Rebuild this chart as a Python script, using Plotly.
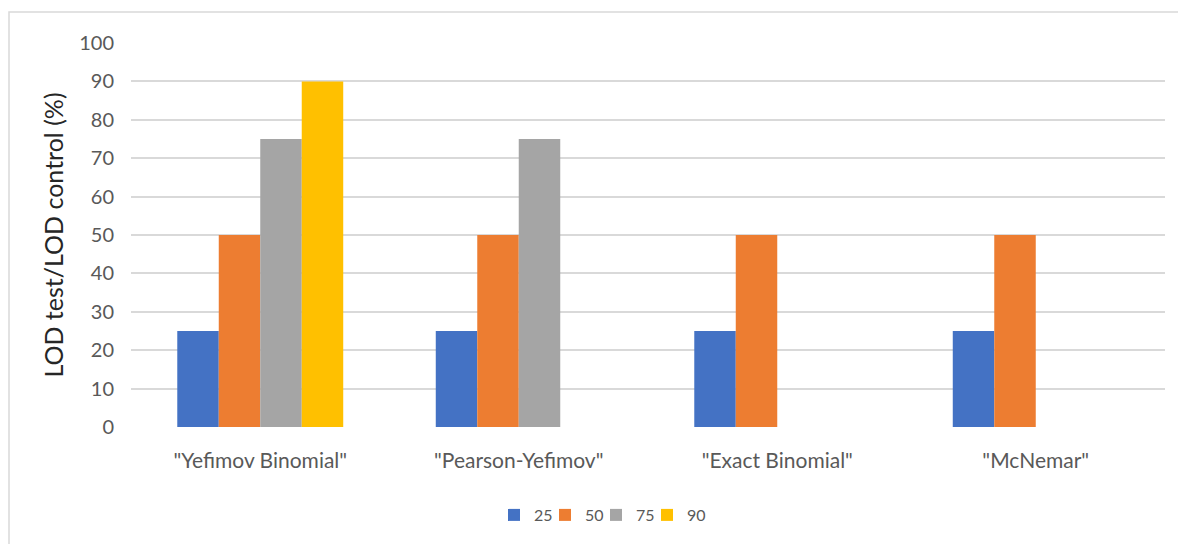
import plotly.graph_objects as go

categories = ['"Yefimov Binomial"', '"Pearson-Yefimov"', '"Exact Binomial"', '"McNemar"']
series_names = ["25", "50", "75", "90"]
values_25 = [25, 25, 25, 25]
values_50 = [50, 50, 50, 50]
values_75 = [75, 75, None, None]
values_90 = [90, None, None, None]
colors = ["#4472C4", "#ED7D31", "#A5A5A5", "#FFC000"]
y_ticks = [0, 10, 20, 30, 40, 50, 60, 70, 80, 90, 100]

FONT = "Lato"

fig = go.Figure()
for name, vals, col in zip(series_names, [values_25, values_50, values_75, values_90], colors):
    fig.add_trace(go.Bar(x=categories, y=vals, name=name,
                         marker=dict(color=col, line=dict(width=0))))
# empty spacer entry so the last legend label is not clipped
fig.add_trace(go.Scatter(x=[None], y=[None], mode="lines", name="",
                         line=dict(color="rgba(0,0,0,0)", width=0),
                         hoverinfo="skip", showlegend=True))

W, H = 1178, 544
ml, mr, mt, mb = 131, 13, 43, 117
pw = W - ml - mr
ph = H - mt - mb

def px_x(p):
    return (p - ml) / pw

def px_y(p):
    return (H - mb - p) / ph

fig.add_shape(type="rect", xref="paper", yref="paper",
              x0=px_x(9), x1=px_x(1190), y0=px_y(560), y1=px_y(12),
              line=dict(color="#D9D9D9", width=1.5), fillcolor="rgba(0,0,0,0)", layer="below")

fig.update_layout(
    width=W, height=H,
    margin=dict(l=ml, r=mr, t=mt, b=mb, autoexpand=False),
    paper_bgcolor="white", plot_bgcolor="white",
    barmode="group", bargap=0.358, bargroupgap=0,
    font=dict(family=FONT, color="#595959"),
    showlegend=True,
    legend=dict(orientation="h", x=px_x(494), xanchor="left", y=px_y(515), yanchor="middle",
                font=dict(size=16, color="#595959", family=FONT),
                itemwidth=30, entrywidth=6, entrywidthmode="pixels",
                traceorder="normal", bgcolor="rgba(0,0,0,0)"),
    xaxis=dict(showgrid=False, showline=False, ticks="", zeroline=False,
               tickfont=dict(size=21, color="#595959", family=FONT),
               ticklabelstandoff=19, automargin=False),
    yaxis=dict(range=[0, 100], tickvals=y_ticks, showgrid=True, gridcolor="#D9D9D9", gridwidth=1.5,
               zeroline=False, showline=False, ticks="",
               tickfont=dict(size=20, color="#595959", family=FONT),
               ticklabelstandoff=16, automargin=False,
               title=dict(text="LOD test/LOD control (%)", standoff=8,
                          font=dict(size=25, color="#262626", family=FONT))),
)

fig.write_html("out.html")
